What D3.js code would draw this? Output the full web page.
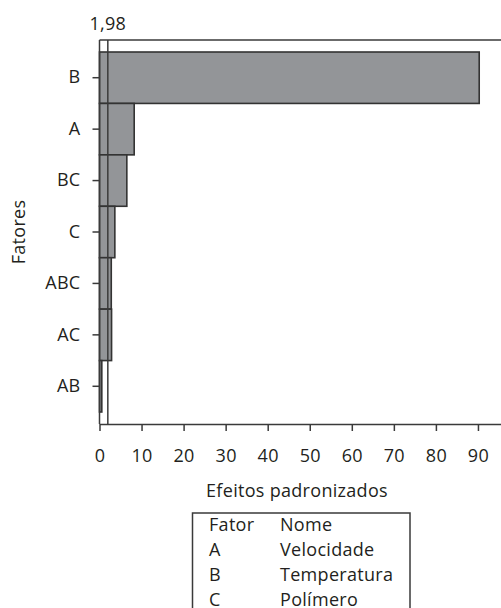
<!DOCTYPE html>
<html>
<head>
<meta charset="utf-8">
<script src="https://cdn.jsdelivr.net/npm/d3@7"></script>
<style>
  body { margin: 0; background: #fff; }
  svg text { font-family: "Open Sans", sans-serif; fill: #231f20; font-size: 18px; letter-spacing: 0.3px; }
</style>
</head>
<body>
<svg id="svg" width="501" height="608"></svg>
<script>
// dados do gráfico de Pareto
var fatores = ["B", "A", "BC", "C", "ABC", "AC", "AB"];
var efeitos = [90.3, 8.25, 6.5, 3.65, 2.8, 2.87, 0.55];
var limite = 1.98;
var xTicks = [0, 10, 20, 30, 40, 50, 60, 70, 80, 90];
var legendaFator = ["A", "B", "C"];
var legendaNome = ["Velocidade", "Temperatura", "Polímero"];

var margin = {top: 40, left: 99.5, right: -6, bottom: 184};
var width = 501 - margin.left - margin.right;
var height = 608 - margin.top - margin.bottom;
var stroke = "#3a3a3a";

var data = fatores.map((f, i) => ({fator: f, valor: efeitos[i]}));

var svg = d3.select("#svg");
var container = svg.append("g").attr("transform", `translate(${margin.left}, ${margin.top})`);

var xScale = d3.scaleLinear().domain([0, width / 4.205]).range([0, width]);
var yScale = d3.scaleBand().domain(fatores).range([12, height - 12]);

// barras
container.selectAll("rect.bar")
    .data(data)
    .enter()
    .append("rect")
    .attr("class", "bar")
    .attr("x", 0)
    .attr("y", d => yScale(d.fator))
    .attr("width", d => xScale(d.valor))
    .attr("height", yScale.bandwidth())
    .attr("fill", "#939598")
    .attr("stroke", "#333")
    .attr("stroke-width", 1.6);

// borda superior
container.append("line")
    .attr("x1", 0).attr("x2", width)
    .attr("y1", 0).attr("y2", 0)
    .attr("stroke", stroke).attr("stroke-width", 1.5);

// linha de referência
container.append("line")
    .attr("x1", xScale(limite)).attr("x2", xScale(limite))
    .attr("y1", 0).attr("y2", height)
    .attr("stroke", stroke).attr("stroke-width", 1.5);
container.append("text")
    .attr("x", xScale(limite)).attr("y", -10)
    .attr("text-anchor", "middle")
    .text(d3.format(".2f")(limite).replace(".", ","));

// eixos
var xAxis = container.append("g")
    .attr("transform", `translate(0, ${height})`)
    .call(d3.axisBottom(xScale).tickValues(xTicks).tickSize(7).tickPadding(18).tickSizeOuter(0));
var yAxis = container.append("g")
    .call(d3.axisLeft(yScale).tickSize(7).tickPadding(12).tickSizeOuter(0));

[xAxis, yAxis].forEach(a => {
    a.attr("font-family", null).attr("font-size", null);
    a.select(".domain").attr("stroke", stroke).attr("stroke-width", 1.5);
    a.selectAll(".tick line").attr("stroke", stroke).attr("stroke-width", 1.5);
    a.selectAll(".tick text").attr("fill", "#231f20");
});
yAxis.select(".domain").attr("d", `M0,0V${height}`);

// títulos
svg.append("text")
    .attr("x", 297).attr("y", 497)
    .attr("text-anchor", "middle")
    .text("Efeitos padronizados");
svg.append("text")
    .attr("transform", "translate(25, 232) rotate(-90)")
    .attr("text-anchor", "middle")
    .text("Fatores");

// legenda
var legenda = svg.append("g");
legenda.append("rect")
    .attr("x", 192.5).attr("y", 513)
    .attr("width", 217.5).attr("height", 120)
    .attr("fill", "none")
    .attr("stroke", stroke).attr("stroke-width", 1.5);
var linhas = [["Fator", "Nome"]].concat(legendaFator.map((f, i) => [f, legendaNome[i]]));
linhas.forEach((l, i) => {
    legenda.append("text").attr("x", 209).attr("y", 531 + i * 25)
        .text(l[0]);
    legenda.append("text").attr("x", 280).attr("y", 531 + i * 25)
        .text(l[1]);
});
</script>
</body>
</html>
